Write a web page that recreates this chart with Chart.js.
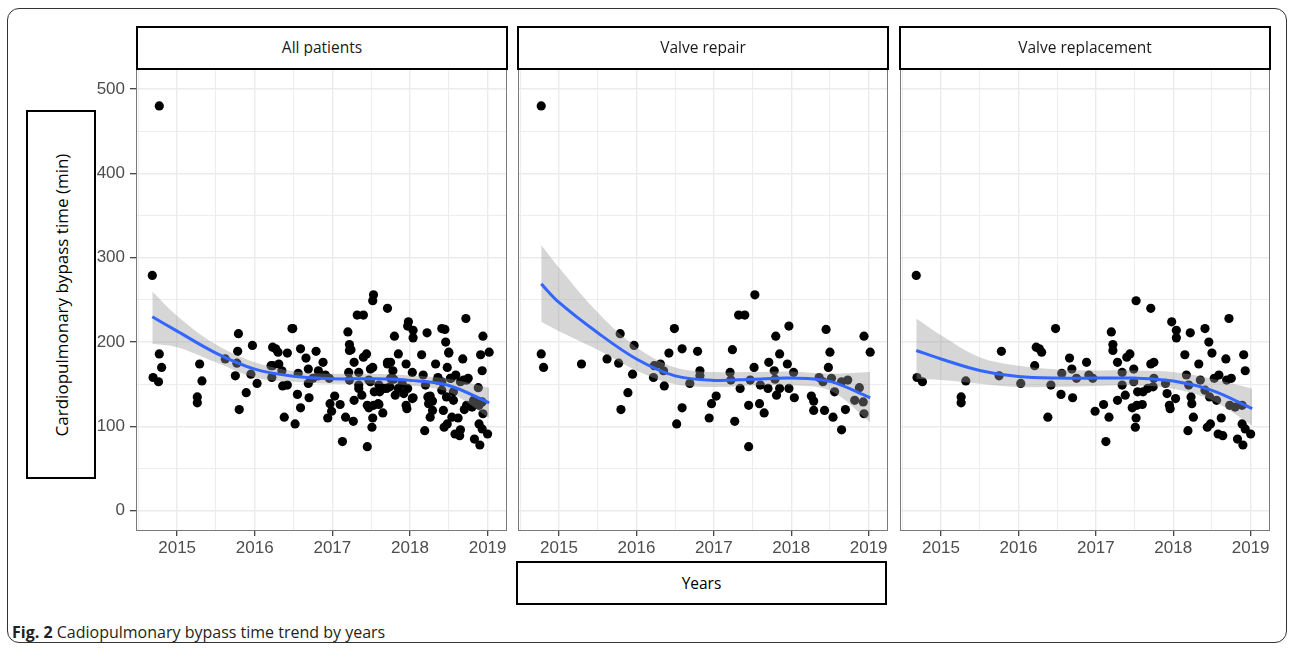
<!DOCTYPE html>
<html>
<head>
<meta charset="utf-8">
<script src="https://cdn.jsdelivr.net/npm/chart.js@4.4.1/dist/chart.umd.min.js"></script>
<style>
  body { margin: 0; background: #fff; width: 1292px; height: 649px; position: relative; overflow: hidden; }
  .frame { position: absolute; left: 7px; top: 8px; width: 1280px; height: 635px; border: 1.5px solid #333; border-radius: 12px; box-sizing: border-box; }
  .box { position: absolute; border: 2px solid #000; box-sizing: border-box; background: #fff; }
  .strip-text { position: absolute; left: 0; right: 0; top: 8px; height: 20px; overflow: hidden; text-align: center;
    font-family: "Open Sans", sans-serif; font-size: 15.5px; line-height: 23px; color: #1a1a1a; }
  canvas { position: absolute; }
  .ytitle { position: absolute; left: 50%; top: 50%; transform: translate(-50%, -50%) rotate(-90deg); white-space: nowrap;
    font-family: "Open Sans", sans-serif; font-size: 17px; color: #000; }
  .xtitle { position: absolute; left: 0; right: 0; top: 50%; transform: translateY(-50%); text-align: center;
    font-family: "Open Sans", sans-serif; font-size: 15.5px; color: #000; }
  .caption { position: absolute; left: 12px; top: 621px; font-family: "Open Sans", sans-serif; font-size: 16px; color: #231f20; }
</style>
</head>
<body>
<div class="frame"></div>

<canvas id="p1" style="left:70px; top:48px;" width="457" height="513"></canvas>
<canvas id="p2" style="left:498px; top:48px;" width="410" height="513"></canvas>
<canvas id="p3" style="left:880px; top:48px;" width="410" height="513"></canvas>

<div class="box" style="left:136px; top:26px; width:372px; height:44px;"><div class="strip-text">All patients</div></div>
<div class="box" style="left:517px; top:26px; width:372px; height:44px;"><div class="strip-text">Valve repair</div></div>
<div class="box" style="left:899px; top:26px; width:372px; height:44px;"><div class="strip-text">Valve replacement</div></div>

<div class="box" style="left:26px; top:110px; width:70px; height:369px;"><div class="ytitle">Cardiopulmonary bypass time (min)</div></div>
<div class="box" style="left:516px; top:561px; width:371px; height:44px;"><div class="xtitle">Years</div></div>

<div class="caption"><b>Fig. 2</b> Cadiopulmonary bypass time trend by years</div>

<script>
// axis breaks
const xBreaks = [2015, 2016, 2017, 2018, 2019];
const xMinorBreaks = [2014.5, 2015.5, 2016.5, 2017.5, 2018.5];
const yBreaks = [0, 100, 200, 300, 400, 500];
const yMinorBreaks = [50, 150, 250, 350, 450];
const xMin = 2014.47, xMax = 2019.25;
const yMin = -24, yMax = 525;

// Valve repair (operation date as decimal year, CPB time in min)
const repairYear = [
  2014.77, 2014.77, 2014.80, 2015.29, 2015.62, 2015.77, 2015.79, 2015.97, 2015.95, 2015.89,
  2015.80, 2016.23, 2016.31, 2016.35, 2016.22, 2016.36, 2016.42, 2016.49, 2016.59, 2016.59,
  2016.52, 2016.69, 2016.79, 2016.82, 2016.82, 2017.03, 2016.97, 2016.94, 2017.27, 2017.21,
  2017.24, 2017.22, 2017.34, 2017.32, 2017.40, 2017.53, 2017.47, 2017.52, 2017.45, 2017.59,
  2017.65, 2017.45, 2017.60, 2017.71, 2017.78, 2017.80, 2017.85, 2017.95, 2017.97, 2017.81,
  2017.85, 2017.70, 2017.97, 2018.03, 2018.04, 2017.79, 2018.26, 2018.29, 2018.29, 2018.36,
  2018.45, 2018.50, 2018.48, 2018.41, 2018.52, 2018.43, 2018.54, 2018.56, 2018.65, 2018.70,
  2018.73, 2018.65, 2018.88, 2018.82, 2018.94, 2019.02, 2018.93, 2018.94
];
const repairTime = [
  480, 186, 170, 174, 180, 175, 210, 196, 162, 140,
  120, 172, 174, 166, 158, 148, 187, 216, 192, 122,
  103, 151, 189, 166, 160, 136, 127, 110, 106, 164,
  191, 155, 145, 232, 232, 256, 155, 170, 125, 127,
  116, 76, 149, 176, 166, 207, 186, 174, 219, 137,
  145, 145, 145, 164, 134, 156, 136, 130, 119, 158,
  215, 188, 170, 153, 157, 119, 111, 141, 96, 120,
  155, 153, 146, 131, 207, 188, 129, 115
];

// Valve replacement
const replaceYear = [
  2014.68, 2014.69, 2014.76, 2015.26, 2015.26, 2015.32, 2015.78, 2015.75, 2016.03, 2016.23,
  2016.27, 2016.30, 2016.21, 2016.42, 2016.38, 2016.48, 2016.56, 2016.55, 2016.66, 2016.69,
  2016.70, 2016.75, 2016.88, 2016.91, 2016.96, 2016.99, 2017.10, 2017.17, 2017.13, 2017.20,
  2017.22, 2017.22, 2017.28, 2017.34, 2017.34, 2017.28, 2017.38, 2017.40, 2017.44, 2017.49,
  2017.49, 2017.52, 2017.71, 2017.47, 2017.53, 2017.60, 2017.52, 2017.51, 2017.54, 2017.61,
  2017.67, 2017.71, 2017.75, 2017.75, 2017.74, 2017.90, 2017.92, 2017.95, 2017.96, 2017.98,
  2018.04, 2018.04, 2018.03, 2018.15, 2018.17, 2018.20, 2018.22, 2018.23, 2018.24, 2018.26,
  2018.19, 2018.33, 2018.35, 2018.41, 2018.46, 2018.50, 2018.41, 2018.47, 2018.44, 2018.48,
  2018.53, 2018.59, 2018.56, 2018.62, 2018.58, 2018.64, 2018.68, 2018.72, 2018.69, 2018.75,
  2018.73, 2018.80, 2018.83, 2018.90, 2018.91, 2018.93, 2018.89, 2018.93, 2019.00, 2018.89
];
const replaceTime = [
  279, 158, 153, 135, 128, 154, 189, 160, 151, 194,
  192, 188, 172, 149, 111, 216, 163, 138, 181, 168,
  134, 157, 176, 161, 157, 118, 126, 111, 82, 212,
  197, 190, 176, 164, 149, 131, 137, 182, 186, 168,
  153, 249, 240, 122, 125, 126, 110, 99, 141, 141,
  145, 174, 176, 157, 147, 151, 139, 125, 121, 224,
  214, 205, 133, 185, 161, 149, 211, 135, 127, 111,
  95, 174, 155, 216, 200, 187, 143, 135, 99, 103,
  157, 161, 131, 110, 91, 89, 180, 228, 155, 157,
  125, 123, 85, 78, 185, 166, 103, 97, 91, 125
];

// smoothed trend and its confidence band
const allFitX = [2014.68, 2015, 2015.5, 2016, 2016.5, 2017, 2017.5, 2018, 2018.5, 2019.02];
const allFit = [230, 213, 187, 168, 159.5, 156.5, 156.5, 154.6, 148.6, 128];
const allUpper = [260, 231, 197, 176, 165.5, 162.5, 162.5, 160.5, 156.5, 146];
const allLower = [198, 194, 176, 158, 153, 150.6, 150.6, 148.6, 140.7, 110];

const repairFitX = [2014.77, 2015, 2015.5, 2016, 2016.5, 2017, 2017.5, 2018, 2018.5, 2019.02];
const repairFit = [269, 247, 211, 180, 160, 154.6, 156, 157.3, 153.4, 134];
const repairUpper = [315, 288, 235, 194, 170, 164.4, 164.4, 165, 162.5, 164.4];
const repairLower = [224, 213, 191, 166.4, 150, 146.7, 148.6, 148.6, 142.7, 105];

const replaceFitX = [2014.68, 2015, 2015.5, 2016, 2016.5, 2017, 2017.5, 2018, 2018.5, 2019.02];
const replaceFit = [190, 180, 166.4, 159.3, 157.3, 157.3, 157.3, 153.8, 142.7, 121];
const replaceUpper = [228, 208, 182, 172, 167.6, 166.4, 166.4, 164.4, 156.5, 144.7];
const replaceLower = [156.5, 155, 150.6, 146.7, 147, 148, 148.6, 144.7, 131, 101];

const allYear = repairYear.concat(replaceYear);
const allTime = repairTime.concat(replaceTime);

function pts(xs, ys) {
    return xs.map((x, i) => ({ x: x, y: ys[i] }));
}

const panelBorder = {
    id: 'panelBorder',
    afterDraw(chart) {
        const a = chart.chartArea;
        const ctx = chart.ctx;
        ctx.save();
        ctx.strokeStyle = '#7a7a7a';
        ctx.lineWidth = 1;
        ctx.strokeRect(a.left + 0.5, a.top + 0.5, a.right - a.left - 1, a.bottom - a.top - 1);
        ctx.restore();
    }
};

// the canvases carry 20px of padding round the panel so the chart area lands exactly
function makePanel(id, xs, ys, fitX, fit, upper, lower, showY) {
    const tickFont = { family: '"Liberation Sans", Arial, sans-serif', size: 17 };
    new Chart(document.getElementById(id), {
        type: 'line',
        data: {
            datasets: [
                {
                    data: pts(xs, ys), showLine: false, order: 3,
                    pointRadius: 4.6, pointBackgroundColor: '#000', pointBorderWidth: 0
                },
                {
                    data: pts(fitX, upper), order: 2, borderWidth: 0, pointRadius: 0,
                    tension: 0.35, fill: '+1',
                    backgroundColor: 'rgba(153,153,153,0.4)'
                },
                {
                    data: pts(fitX, lower), order: 2, borderWidth: 0, pointRadius: 0,
                    tension: 0.35, fill: false
                },
                {
                    data: pts(fitX, fit), order: 1, borderColor: '#3366FF', borderWidth: 3,
                    pointRadius: 0, tension: 0.35, fill: false
                }
            ]
        },
        options: {
            responsive: false,
            animation: false,
            events: [],
            layout: { padding: { left: 20, top: 20, right: 20, bottom: 0 } },
            plugins: { legend: { display: false }, tooltip: { enabled: false } },
            scales: {
                x: {
                    type: 'linear', min: xMin, max: xMax,
                    afterBuildTicks: (axis) => {
                        axis.ticks = xMinorBreaks.concat(xBreaks).sort((a, b) => a - b).map(v => ({ value: v }));
                    },
                    afterFit: (axis) => { axis.height = 30; },
                    border: { display: false },
                    grid: {
                        color: '#ebebeb',
                        lineWidth: (c) => xBreaks.includes(c.tick.value) ? 1.4 : 0.9,
                        tickColor: (c) => xBreaks.includes(c.tick.value) ? '#333' : 'rgba(0,0,0,0)',
                        tickLength: 5, tickWidth: 1.2
                    },
                    ticks: {
                        autoSkip: false, maxRotation: 0, padding: 2, color: '#4d4d4d', font: tickFont,
                        callback: (v) => xBreaks.includes(v) ? String(v) : ''
                    }
                },
                y: {
                    min: yMin, max: yMax,
                    afterBuildTicks: (axis) => {
                        axis.ticks = yBreaks.concat(yMinorBreaks).sort((a, b) => a - b).map(v => ({ value: v }));
                    },
                    afterFit: (axis) => { axis.width = showY ? 46 : 0; },
                    border: { display: false },
                    grid: {
                        color: '#ebebeb',
                        lineWidth: (c) => yBreaks.includes(c.tick.value) ? 1.4 : 0.9,
                        tickColor: (c) => yBreaks.includes(c.tick.value) ? '#333' : 'rgba(0,0,0,0)',
                        drawTicks: showY, tickLength: 6, tickWidth: 1.2
                    },
                    ticks: {
                        display: showY, padding: 5, color: '#4d4d4d', font: tickFont,
                        callback: (v) => yBreaks.includes(v) ? String(v) : ''
                    }
                }
            }
        },
        plugins: [panelBorder]
    });
}

makePanel('p1', allYear, allTime, allFitX, allFit, allUpper, allLower, true);
makePanel('p2', repairYear, repairTime, repairFitX, repairFit, repairUpper, repairLower, false);
makePanel('p3', replaceYear, replaceTime, replaceFitX, replaceFit, replaceUpper, replaceLower, false);
</script>
</body>
</html>
